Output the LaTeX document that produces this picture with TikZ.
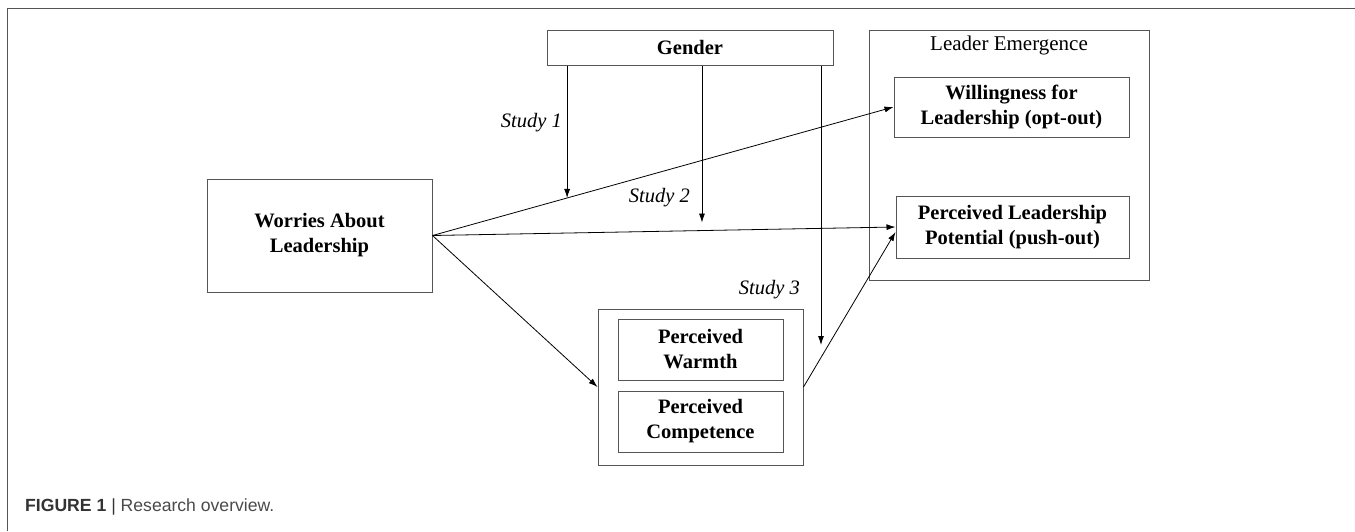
\documentclass[tikz,border=0pt]{standalone}
\usepackage{fontspec}
\setmainfont{Liberation Serif}
\newfontfamily\capfont{Liberation Sans}
\usetikzlibrary{arrows.meta,calc}
\definecolor{boxgray}{HTML}{555555}
\definecolor{capgray}{HTML}{333333}
\definecolor{capgray2}{HTML}{4A4A4A}
\tikzset{
  box/.style={draw=boxgray,line width=1pt,rectangle,inner sep=0pt,align=center,
    font=\fontsize{20.5}{25}\selectfont\bfseries},
  plainbox/.style={draw=boxgray,line width=1pt,rectangle,inner sep=0pt},
  lbl/.style={font=\fontsize{20.5}{25}\selectfont\itshape,inner sep=0pt},
  conn/.style={draw=black,line width=0.8pt,-{Latex[length=9pt,width=6pt]}},
  frame/.style={draw=boxgray,line width=1pt}
}
\begin{document}
\begin{tikzpicture}[x=1pt,y=-1pt]
\useasboundingbox (0,0) rectangle (1355,531);
\draw[frame] (7,531) -- (7,8) -- (1355,8);

\node[box,minimum width=225pt,minimum height=113pt] (w) at (319.5,235.5) {Worries About\\Leadership};
\node[box,minimum width=286pt,minimum height=35pt] (g) at (690,47.5) {Gender};
\node[plainbox,minimum width=280pt,minimum height=250pt] (le) at (1009,155) {};
\node[inner sep=0pt,font=\fontsize{21}{25}\selectfont] (let) at (1009,45) {Leader Emergence};
\node[box,minimum width=235pt,minimum height=60pt] (wil) at (1011.5,107) {Willingness for\\Leadership (opt-out)};
\node[box,minimum width=233pt,minimum height=62pt] (pot) at (1012.5,227) {Perceived Leadership\\Potential (push-out)};
\node[plainbox,minimum width=205pt,minimum height=156pt] (s3) at (700.5,387) {};
\node[box,minimum width=165pt,minimum height=61pt] (warm) at (700.5,349.5) {Perceived\\Warmth};
\node[box,minimum width=165pt,minimum height=61pt] (comp) at (700.5,421.5) {Perceived\\Competence};

\node[lbl,anchor=east] (l1) at (562,123) {Study 1};
\node[lbl,anchor=east] (l2) at (690,198) {Study 2};
\node[lbl,anchor=east] (l3) at (800,290) {Study 3};

\path (w.east) -- (wil.west) coordinate[pos=0.292] (m1);
\path (w.east) -- (pot.west) coordinate[pos=0.582] (m2);
\coordinate (m3) at (821,345);

\draw[conn] (w.east) -- (wil.west);
\draw[conn] (w.east) -- (pot.west);
\draw[conn] (w.east) -- (s3.west);
\draw[conn] (s3.east) -- ([yshift=-5pt]pot.west);

\draw[conn] (g.south -| m1) -- (m1);
\draw[conn] (g.south -| m2) -- ([yshift=8pt]m2);
\draw[conn] (g.south -| m3) -- (m3);

\node[anchor=west,inner sep=0pt,font=\capfont\fontsize{17.6}{20}\selectfont] (cap) at (25,507) {\textcolor{capgray}{\textbf{FIGURE 1} |} \textcolor{capgray2}{Research overview.}};
\end{tikzpicture}
\end{document}
